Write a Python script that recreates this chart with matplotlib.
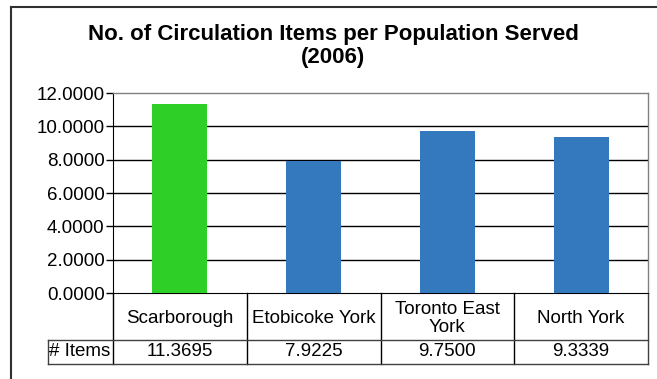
import matplotlib.pyplot as plt
import matplotlib.transforms as mtransforms
from matplotlib.lines import Line2D

# data
categories = ['Scarborough', 'Etobicoke York', 'Toronto East\nYork', 'North York']
values = [11.3695, 7.9225, 9.7500, 9.3339]
value_labels = ['11.3695', '7.9225', '9.7500', '9.3339']
colors = ['#2ECF26', '#3479BD', '#3479BD', '#3479BD']
yticks = [0, 2, 4, 6, 8, 10, 12]

plt.rcParams['font.family'] = ['Liberation Sans', 'DejaVu Sans']

W, H = 657, 379
fig = plt.figure(figsize=(W / 100, H / 100), dpi=100)

# plot area in pixels
left, right, top, bottom = 113, 648, 93, 293
ax = fig.add_axes([left / W, 1 - bottom / H, (right - left) / W, (bottom - top) / H])

fs = 13.5
x = list(range(len(categories)))
ax.bar(x, values, width=0.41, color=colors, zorder=3)
ax.set_xlim(-0.5, len(categories) - 0.5)
ax.set_ylim(0, 12)
ax.set_yticks(yticks)
ax.set_yticklabels(['%.4f' % t for t in yticks], fontsize=fs)
ax.set_xticks([])
ax.tick_params(axis='y', length=5, width=1, direction='out', pad=1, colors='black')
for t in yticks[1:-1]:
    ax.axhline(t, color='black', lw=1, zorder=1)
for side in ['top', 'right']:
    ax.spines[side].set_color('#808080')
    ax.spines[side].set_linewidth(1)
ax.spines['bottom'].set_color('black')
ax.spines['left'].set_color('black')

# data table below axis
tr = mtransforms.blended_transform_factory(ax.transData, ax.transAxes)
ph = bottom - top
y_head = -(340 - bottom) / ph
y_row = -(364 - bottom) / ph
x_lab = -0.5 - (left - 48) / ((right - left) / len(categories))
n = len(categories)

def line(xs, ys, color='black', lw=1):
    ax.add_line(Line2D(xs, ys, transform=tr, color=color, lw=lw, clip_on=False))

line([-0.5, -0.5], [0, y_row])
for i in range(n):
    line([i + 0.5, i + 0.5], [0, y_row], color='black' if i < n - 1 else '#404040')
line([x_lab, n - 0.5], [y_head, y_head], color='#404040')
line([x_lab, n - 0.5], [y_row, y_row], color='#404040')
line([x_lab, x_lab], [y_head, y_row], color='#404040')

for i, (c, v) in enumerate(zip(categories, value_labels)):
    ax.text(i, y_head / 2 - 0.01, c, transform=tr, ha='center', va='center',
            fontsize=fs, linespacing=1.0)
    ax.text(i, (y_head + y_row) / 2, v, transform=tr, ha='center', va='center',
            fontsize=fs)
ax.text(x_lab + 0.01, (y_head + y_row) / 2, '# Items', transform=tr, ha='left',
        va='center', fontsize=fs)

# title
fig.text(333 / W, 1 - 46 / H, 'No. of Circulation Items per Population Served\n(2006)',
         ha='center', va='center', fontsize=16, fontweight='bold', linespacing=1.15)

# outer chart border
fig.add_artist(Line2D([11 / W, 11 / W], [0, 1 - 7 / H], transform=fig.transFigure,
                      color='#303030', lw=1.5))
fig.add_artist(Line2D([11 / W, 1], [1 - 7 / H, 1 - 7 / H], transform=fig.transFigure,
                      color='#303030', lw=1.5))

fig.savefig('out.png', dpi=100)
